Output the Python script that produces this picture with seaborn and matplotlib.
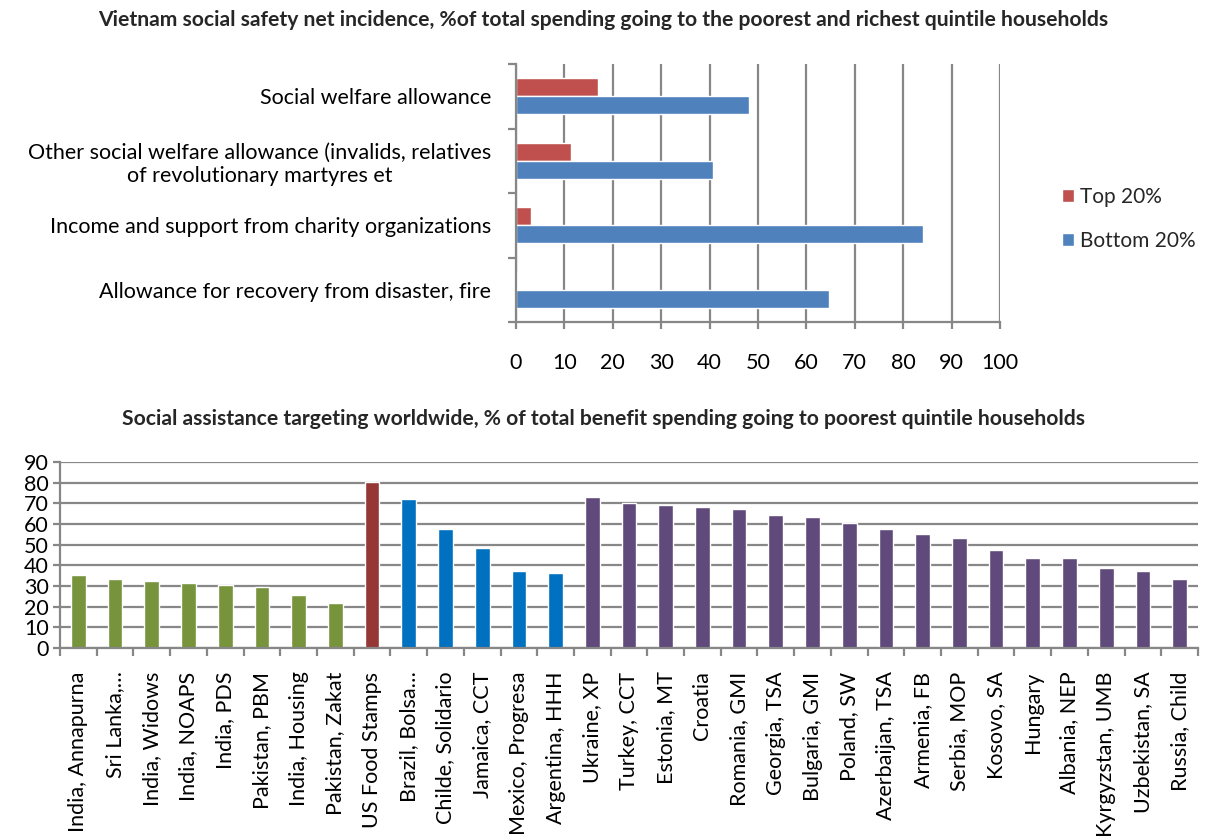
import matplotlib
matplotlib.use("Agg")
import matplotlib.pyplot as plt
import seaborn as sns
import pandas as pd
import numpy as np
from matplotlib.ticker import FixedLocator, MultipleLocator

sns.set_theme(style="white")
plt.rcParams['font.family'] = ['Lato', 'DejaVu Sans']

# ---- Top chart data ----
vn_categories = [
    "Social welfare allowance",
    "Other social welfare allowance (invalids, relatives\nof revolutionary martyres et",
    "Income and support from charity organizations",
    "Allowance for recovery from disaster, fire",
]
vn_top20 = [17.0, 11.3, 3.1, 0.2]
vn_bottom20 = [48.1, 40.7, 84.0, 64.6]
vn_series = ["Top 20%", "Bottom 20%"]

# ---- Bottom chart data ----
ww_labels = [
    "India, Annapurna", "Sri Lanka,\u2026", "India, Widows", "India, NOAPS", "India, PDS",
    "Pakistan, PBM", "India, Housing", "Pakistan, Zakat", "US Food Stamps", "Brazil, Bolsa\u2026",
    "Childe, Solidario", "Jamaica, CCT", "Mexico, Progresa", "Argentina, HHH", "Ukraine, XP",
    "Turkey, CCT", "Estonia, MT", "Croatia", "Romania, GMI", "Georgia, TSA", "Bulgaria, GMI",
    "Poland, SW", "Azerbaijan, TSA", "Armenia, FB", "Serbia, MOP", "Kosovo, SA", "Hungary",
    "Albania, NEP", "Kyrgyzstan, UMB", "Uzbekistan, SA", "Russia, Child",
]
ww_values = [35.3, 33.4, 32.4, 31.4, 30.5, 29.5, 25.6, 21.8, 80.3, 72.0,
             57.6, 48.4, 37.2, 36.3, 73.0, 70.3, 69.2, 68.2, 67.2, 64.3, 63.4,
             60.5, 57.6, 55.1, 53.2, 47.4, 43.5, 43.5, 38.7, 37.2, 33.4]
ww_groups = (["South Asia"] * 8 + ["US"] + ["Latin America"] * 5 + ["ECA"] * 17)
ww_palette = {"South Asia": "#77933C", "US": "#953735",
              "Latin America": "#0070C0", "ECA": "#604A7B"}

grid_col = "#878787"
fs = 15.5

fig = plt.figure(figsize=(12.06, 8.36), dpi=100)

# ---------------- Top chart ----------------
ax1 = fig.add_axes([516/1206, 1-322/836, (1000-516)/1206, (322-64)/836])
df1 = pd.DataFrame({
    "category": vn_categories * 2,
    "value": vn_top20 + vn_bottom20,
    "series": [vn_series[0]] * 4 + [vn_series[1]] * 4,
})
sns.barplot(data=df1, y="category", x="value", hue="series", orient="h",
            order=vn_categories, hue_order=vn_series,
            palette={"Top 20%": "#C0504D", "Bottom 20%": "#4F81BD"},
            saturation=1, width=0.56, ax=ax1, legend=True)
ax1.set_xlim(0, 100)
ax1.set_ylim(3.5, -0.5)
ax1.xaxis.set_major_locator(MultipleLocator(10))
ax1.grid(axis="x", color=grid_col, linewidth=1.6)
ax1.set_axisbelow(True)
ax1.set_xlabel("")
ax1.set_ylabel("")
for s in ["top", "right"]:
    ax1.spines[s].set_visible(False)
for s in ["left", "bottom"]:
    ax1.spines[s].set_color(grid_col)
    ax1.spines[s].set_linewidth(1.6)
ax1.yaxis.set_minor_locator(FixedLocator(np.arange(-0.5, 4.0, 1.0)))
ax1.tick_params(axis="y", which="major", length=0, pad=18, labelsize=fs, labelcolor="black")
ax1.tick_params(axis="y", which="minor", length=6, width=1.6, color=grid_col, left=True)
ax1.tick_params(axis="x", which="major", length=5, width=1.6, color=grid_col, bottom=True,
                pad=17, labelsize=fs, labelcolor="black")
for lab in ax1.get_yticklabels():
    lab.set_multialignment("center")
leg = ax1.legend(loc="center left", bbox_to_anchor=(1043/1206, 1-219/836),
                 bbox_transform=fig.transFigure, frameon=False, fontsize=15,
                 handlelength=0.6, handleheight=0.6, labelspacing=1.15, handletextpad=0.3)
fig.text(0.5, 1-20/836,
         "Vietnam social safety net incidence, %of total spending going to the poorest and richest quintile households",
         ha="center", va="center", fontsize=15.2, fontweight="bold")

# ---------------- Bottom chart ----------------
ax2 = fig.add_axes([60/1206, 1-648/836, (1198-60)/1206, (648-462)/836])
df2 = pd.DataFrame({"label": ww_labels, "value": ww_values, "group": ww_groups})
sns.barplot(data=df2, x="label", y="value", hue="group", palette=ww_palette,
            order=ww_labels, dodge=False, width=0.4, saturation=1, ax=ax2, legend=False)
n = len(ww_labels)
ax2.set_xlim(-0.5, n - 0.5)
ax2.set_ylim(0, 90)
ax2.yaxis.set_major_locator(MultipleLocator(10))
ax2.grid(axis="y", color=grid_col, linewidth=1.6)
ax2.set_axisbelow(True)
ax2.set_xlabel("")
ax2.set_ylabel("")
for s in ["top", "right"]:
    ax2.spines[s].set_visible(False)
for s in ["left", "bottom"]:
    ax2.spines[s].set_color(grid_col)
    ax2.spines[s].set_linewidth(1.6)
ax2.xaxis.set_minor_locator(FixedLocator(np.arange(-0.5, n, 1.0)))
ax2.tick_params(axis="x", which="major", length=0, pad=17, labelsize=fs,
                labelrotation=90, labelcolor="black")
ax2.tick_params(axis="x", which="minor", length=6, width=1.6, color=grid_col, bottom=True)
ax2.tick_params(axis="y", which="major", length=5, width=1.6, color=grid_col, left=True,
                pad=3, labelsize=fs, labelcolor="black")
fig.text(0.5, 1-419/836,
         "Social assistance targeting worldwide, % of total benefit spending going to poorest quintile households",
         ha="center", va="center", fontsize=15.2, fontweight="bold")

fig.savefig("out.png", dpi=100, facecolor="white")
